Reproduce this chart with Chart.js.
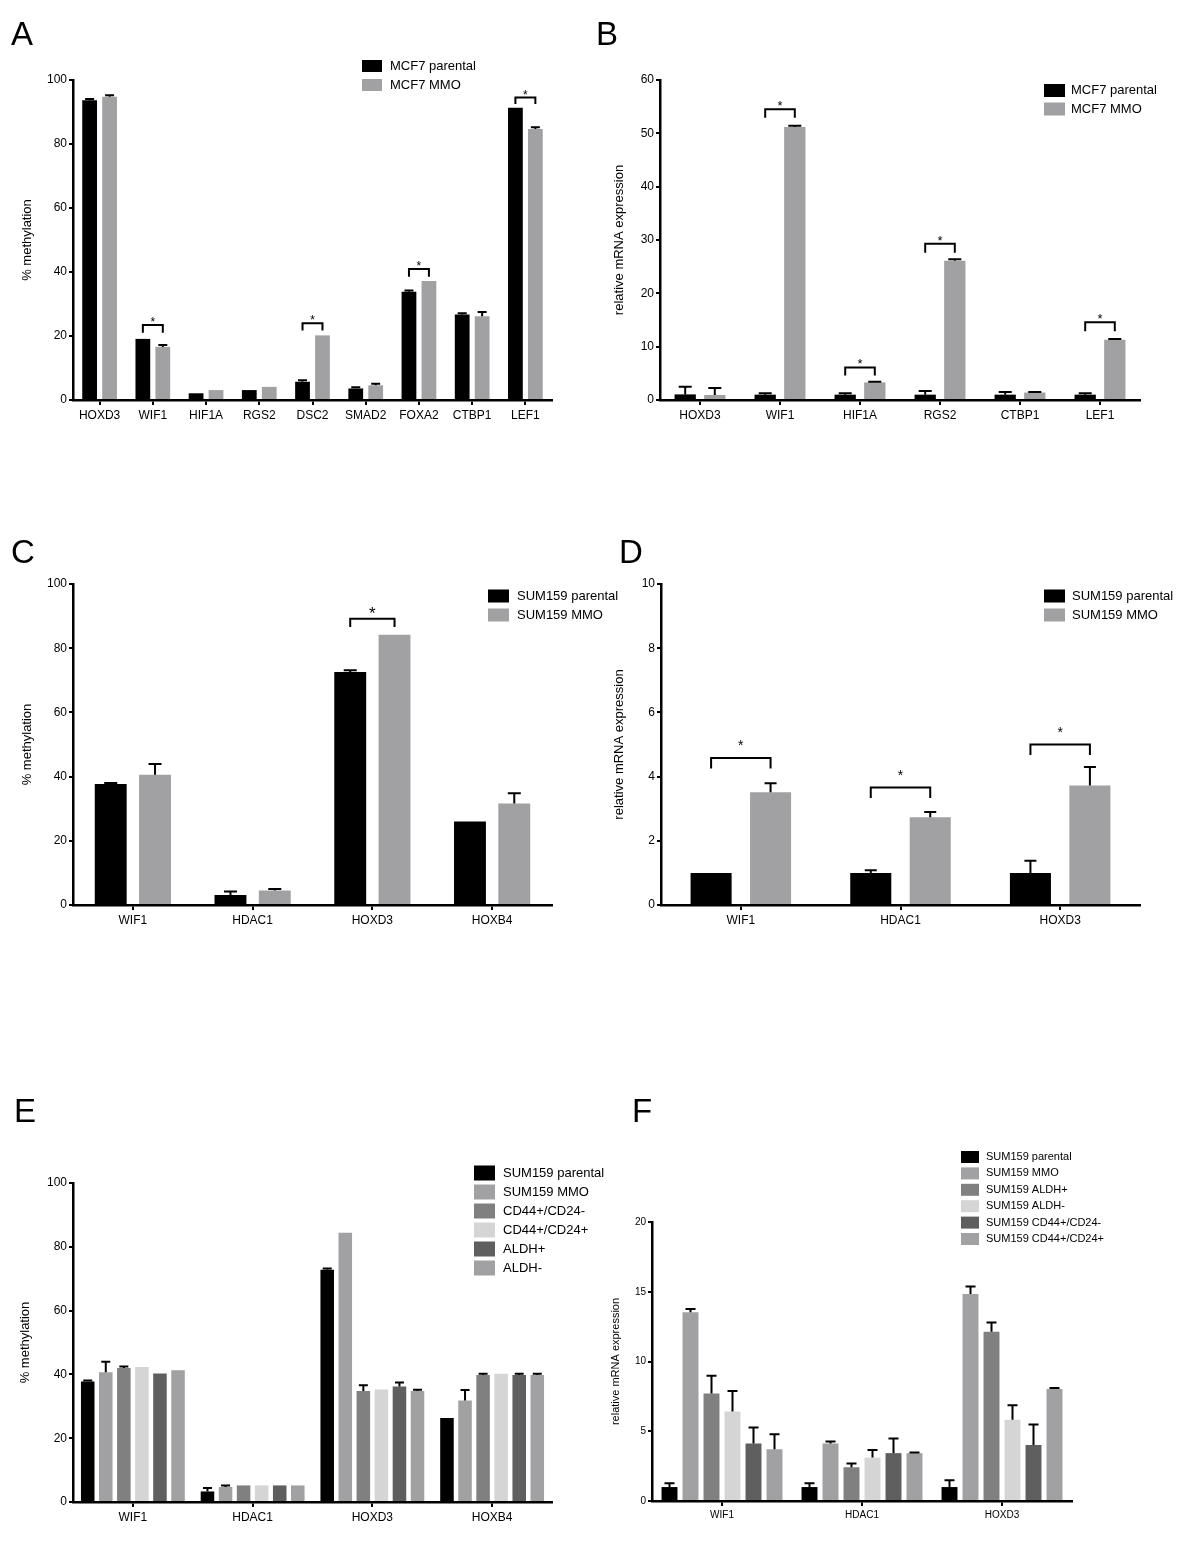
<!DOCTYPE html>
<html>
<head>
<meta charset="utf-8">
<script src="https://cdn.jsdelivr.net/npm/chart.js@4"></script>
<style>
body { margin: 0; background: #fff; width: 1200px; height: 1560px; position: relative; overflow: hidden; }
canvas { position: absolute; }
</style>
</head>
<body>
<canvas id="cA" width="640" height="440" style="left:0;top:0"></canvas>
<canvas id="cB" width="610" height="440" style="left:590px;top:0"></canvas>
<canvas id="cC" width="640" height="440" style="left:0;top:500px"></canvas>
<canvas id="cD" width="610" height="440" style="left:590px;top:500px"></canvas>
<canvas id="cE" width="640" height="460" style="left:0;top:1080px"></canvas>
<canvas id="cF" width="610" height="460" style="left:590px;top:1080px"></canvas>
<script>
// panel A - methylation MCF7
const catsA = ["HOXD3", "WIF1", "HIF1A", "RGS2", "DSC2", "SMAD2", "FOXA2", "CTBP1", "LEF1"];
const aParental = [93.7, 19.1, 2.1, 3.1, 5.7, 3.6, 33.8, 26.7, 91.3];
const aParentalErr = [0.4, 0, 0, 0, 0.5, 0.4, 0.4, 0.4, 0];
const aMMO = [94.8, 16.6, 3.1, 4.1, 20.2, 4.6, 37.2, 26.2, 84.7];
const aMMOErr = [0.4, 0.6, 0, 0, 0, 0.5, 0, 1.3, 0.5];
const aBrackets = [[1, 23.4, 21.0], [4, 24.0, 21.7], [6, 40.9, 38.5], [8, 94.5, 92.5]];

// panel B - expression MCF7
const catsB = ["HOXD3", "WIF1", "HIF1A", "RGS2", "CTBP1", "LEF1"];
const bParental = [1.05, 1.0, 1.0, 1.0, 1.0, 1.0];
const bParentalErr = [1.45, 0.25, 0.25, 0.7, 0.5, 0.25];
const bMMO = [0.95, 51.2, 3.3, 26.1, 1.4, 11.3];
const bMMOErr = [1.3, 0.2, 0.1, 0.3, 0.1, 0.15];
const bBrackets = [[1, 54.5, 52.9], [2, 6.1, 4.6], [3, 29.3, 27.6], [5, 14.6, 12.9]];

// panel C - methylation SUM159
const catsC = ["WIF1", "HDAC1", "HOXD3", "HOXB4"];
const cParental = [37.7, 3.1, 72.6, 26.0];
const cParentalErr = [0.3, 1.1, 0.5, 0];
const cMMO = [40.6, 4.5, 84.2, 31.6];
const cMMOErr = [3.3, 0.5, 0, 3.2];
const cBrackets = [[2, 89.2, 86.6]];

// panel D - expression SUM159
const catsD = ["WIF1", "HDAC1", "HOXD3"];
const dParental = [1.0, 1.0, 1.0];
const dParentalErr = [0, 0.08, 0.38];
const dMMO = [3.51, 2.73, 3.72];
const dMMOErr = [0.28, 0.17, 0.58];
const dBrackets = [[0, 4.58, 4.25], [1, 3.66, 3.33], [2, 5.0, 4.67]];

// panel E - methylation in sorted populations
const catsE = ["WIF1", "HDAC1", "HOXD3", "HOXB4"];
const eParental = [37.8, 3.3, 72.8, 26.3];
const eParentalErr = [0.3, 1.1, 0.4, 0];
const eMMO = [40.7, 4.7, 84.4, 31.8];
const eMMOErr = [3.3, 0.5, 0, 3.3];
const eCD44neg = [42.0, 5.2, 34.8, 39.8];
const eCD44negErr = [0.5, 0, 1.8, 0.4];
const eCD44pos = [42.3, 5.2, 35.3, 40.2];
const eCD44posErr = [0, 0, 0, 0];
const eALDHpos = [40.3, 5.2, 36.2, 39.8];
const eALDHposErr = [0, 0, 1.3, 0.4];
const eALDHneg = [41.3, 5.2, 34.8, 39.8];
const eALDHnegErr = [0, 0, 0.4, 0.4];

// panel F - expression in sorted populations
const catsF = ["WIF1", "HDAC1", "HOXD3"];
const fParental = [1.0, 1.0, 1.0];
const fParentalErr = [0.27, 0.27, 0.49];
const fMMO = [13.53, 4.12, 14.83];
const fMMOErr = [0.24, 0.14, 0.55];
const fALDHpos = [7.71, 2.42, 12.14];
const fALDHposErr = [1.27, 0.26, 0.65];
const fALDHneg = [6.42, 3.11, 5.82];
const fALDHnegErr = [1.46, 0.55, 1.05];
const fCD44neg = [4.12, 3.43, 4.02];
const fCD44negErr = [1.15, 1.05, 1.47];
const fCD44pos = [3.71, 3.43, 8.02];
const fCD44posErr = [1.08, 0.04, 0.08];

const FONT = "'Liberation Sans', Arial, Helvetica, sans-serif";
Chart.defaults.font.family = FONT;
Chart.defaults.color = "#000";

const BLACK = "#000000", GREY = "#a1a1a4", MID = "#808080", LIGHT = "#d5d5d5", DARK = "#5f5f5f";

// error bars, significance brackets, legend and panel letter
const extras = {
  id: "extras",
  afterDatasetsDraw(chart, args, o) {
    const ctx = chart.ctx, y = chart.scales.y;
    ctx.save();
    ctx.strokeStyle = "#000";
    ctx.lineWidth = 2;
    chart.data.datasets.forEach((ds, i) => {
      chart.getDatasetMeta(i).data.forEach((bar, j) => {
        const e = ds.err[j];
        if (!e) return;
        const yt = y.getPixelForValue(ds.data[j] + e);
        ctx.beginPath();
        ctx.moveTo(bar.x, bar.y);
        ctx.lineTo(bar.x, yt);
        ctx.moveTo(bar.x - o.cap, yt);
        ctx.lineTo(bar.x + o.cap, yt);
        ctx.stroke();
      });
    });
    (o.brackets || []).forEach(([k, top, leg]) => {
      const x1 = chart.getDatasetMeta(0).data[k].x;
      const x2 = chart.getDatasetMeta(1).data[k].x;
      const y1 = y.getPixelForValue(top), y2 = y.getPixelForValue(leg);
      ctx.beginPath();
      ctx.moveTo(x1, y2);
      ctx.lineTo(x1, y1);
      ctx.lineTo(x2, y1);
      ctx.lineTo(x2, y2);
      ctx.stroke();
      ctx.fillStyle = "#000";
      ctx.font = o.starSize + "px " + FONT;
      ctx.textAlign = "center";
      ctx.textBaseline = "alphabetic";
      ctx.fillText("*", (x1 + x2) / 2, y1 - o.starGap + 0.58 * o.starSize);
    });
    ctx.restore();
  },
  afterDraw(chart, args, o) {
    const ctx = chart.ctx, lg = o.legend;
    ctx.save();
    ctx.textBaseline = "middle";
    ctx.textAlign = "left";
    ctx.font = lg.font + "px " + FONT;
    chart.data.datasets.forEach((ds, i) => {
      const cy = lg.y + i * lg.dy;
      ctx.fillStyle = ds.backgroundColor;
      ctx.fillRect(lg.x, cy - lg.h / 2, lg.w, lg.h);
      ctx.fillStyle = "#000";
      ctx.fillText(ds.label, lg.tx, cy);
    });
    ctx.font = "33px " + FONT;
    ctx.textBaseline = "alphabetic";
    ctx.fillText(o.letter[0], o.letter[1], o.letter[2]);
    ctx.restore();
  }
};

function makePanel(id, p) {
  const cv = document.getElementById(id);
  const W = cv.width, H = cv.height, xH = 30;
  return new Chart(cv, {
    type: "bar",
    data: {
      labels: p.labels,
      datasets: p.series.map(s => ({
        label: s[0], data: s[1], err: s[2], backgroundColor: s[3],
        borderWidth: 0, categoryPercentage: p.catPct, barPercentage: p.barPct
      }))
    },
    options: {
      responsive: false,
      animation: false,
      layout: { padding: { left: 0, top: p.area[2], right: W - p.area[1], bottom: H - p.area[3] - xH } },
      plugins: {
        legend: { display: false },
        tooltip: { enabled: false },
        extras: p.extras
      },
      scales: {
        x: {
          grid: { display: true, drawOnChartArea: false, offset: false, tickLength: 5, lineWidth: 2, color: "#000" },
          border: { display: true, color: "#000", width: 2.5 },
          ticks: { font: { size: p.xFont }, padding: 3, autoSkip: false, maxRotation: 0 },
          afterFit: s => { s.height = xH; }
        },
        y: {
          min: 0, max: p.yMax,
          grid: { display: true, drawOnChartArea: false, tickLength: 4, lineWidth: 2, color: "#000" },
          border: { display: true, color: "#000", width: 2.5 },
          ticks: { stepSize: p.yStep, font: { size: p.yFont }, padding: 2 },
          title: {
            display: true, text: p.yTitle, font: { size: p.titleFont },
            padding: { top: p.titleX - p.titleFont * 0.6, bottom: 0 }
          },
          afterFit: s => { s.width = p.area[0]; }
        }
      }
    },
    plugins: [extras]
  });
}

makePanel("cA", {
  labels: catsA,
  series: [["MCF7 parental", aParental, aParentalErr, BLACK], ["MCF7 MMO", aMMO, aMMOErr, GREY]],
  area: [73, 552, 80, 400], catPct: 0.75, barPct: 0.74,
  yMax: 100, yStep: 20, yTitle: "% methylation", titleX: 27,
  xFont: 12, yFont: 12, titleFont: 13,
  extras: {
    cap: 4.5, brackets: aBrackets, starSize: 12, starGap: 5.7, letter: ["A", 11, 45],
    legend: { x: 362, y: 66, dy: 19, w: 20, h: 12, tx: 390, font: 13 }
  }
});

makePanel("cB", {
  labels: catsB,
  series: [["MCF7 parental", bParental, bParentalErr, BLACK], ["MCF7 MMO", bMMO, bMMOErr, GREY]],
  area: [70, 550, 80, 400], catPct: 0.74, barPct: 0.72,
  yMax: 60, yStep: 10, yTitle: "relative mRNA expression", titleX: 29,
  xFont: 12, yFont: 12, titleFont: 13,
  extras: {
    cap: 6.5, brackets: bBrackets, starSize: 13, starGap: 6.7, letter: ["B", 6, 45],
    legend: { x: 454, y: 90.5, dy: 18.5, w: 21, h: 13, tx: 481, font: 13 }
  }
});

makePanel("cC", {
  labels: catsC,
  series: [["SUM159 parental", cParental, cParentalErr, BLACK], ["SUM159 MMO", cMMO, cMMOErr, GREY]],
  area: [73, 552, 84, 405], catPct: 0.74, barPct: 0.72,
  yMax: 100, yStep: 20, yTitle: "% methylation", titleX: 27,
  xFont: 12, yFont: 12, titleFont: 13,
  extras: {
    cap: 6.5, brackets: cBrackets, starSize: 17, starGap: 10, letter: ["C", 11, 63],
    legend: { x: 488, y: 96, dy: 19, w: 21, h: 13, tx: 517, font: 13 }
  }
});

makePanel("cD", {
  labels: catsD,
  series: [["SUM159 parental", dParental, dParentalErr, BLACK], ["SUM159 MMO", dMMO, dMMOErr, GREY]],
  area: [71, 550, 84, 405], catPct: 0.745, barPct: 0.69,
  yMax: 10, yStep: 2, yTitle: "relative mRNA expression", titleX: 29,
  xFont: 12, yFont: 12, titleFont: 13,
  extras: {
    cap: 6, brackets: dBrackets, starSize: 14, starGap: 16, letter: ["D", 29, 63],
    legend: { x: 454, y: 96, dy: 19, w: 21, h: 13, tx: 482, font: 13 }
  }
});

makePanel("cE", {
  labels: catsE,
  series: [
    ["SUM159 parental", eParental, eParentalErr, BLACK],
    ["SUM159 MMO", eMMO, eMMOErr, GREY],
    ["CD44+/CD24-", eCD44neg, eCD44negErr, MID],
    ["CD44+/CD24+", eCD44pos, eCD44posErr, LIGHT],
    ["ALDH+", eALDHpos, eALDHposErr, DARK],
    ["ALDH-", eALDHneg, eALDHnegErr, GREY]
  ],
  area: [73, 552, 103, 422], catPct: 0.905, barPct: 0.75,
  yMax: 100, yStep: 20, yTitle: "% methylation", titleX: 25,
  xFont: 12, yFont: 12, titleFont: 13,
  extras: {
    cap: 4.5, brackets: [], starSize: 12, starGap: 6, letter: ["E", 14, 42],
    legend: { x: 474, y: 93, dy: 19, w: 21, h: 15, tx: 503, font: 13 }
  }
});

makePanel("cF", {
  labels: catsF,
  series: [
    ["SUM159 parental", fParental, fParentalErr, BLACK],
    ["SUM159 MMO", fMMO, fMMOErr, GREY],
    ["SUM159 ALDH+", fALDHpos, fALDHposErr, MID],
    ["SUM159 ALDH-", fALDHneg, fALDHnegErr, LIGHT],
    ["SUM159 CD44+/CD24-", fCD44neg, fCD44negErr, DARK],
    ["SUM159 CD44+/CD24+", fCD44pos, fCD44posErr, GREY]
  ],
  area: [62, 482, 142, 421], catPct: 0.9, barPct: 0.76,
  yMax: 20, yStep: 5, yTitle: "relative mRNA expression", titleX: 26,
  xFont: 10, yFont: 10, titleFont: 11,
  extras: {
    cap: 5, brackets: [], starSize: 12, starGap: 6, letter: ["F", 42, 42],
    legend: { x: 371, y: 77, dy: 16.4, w: 18, h: 12, tx: 396, font: 11 }
  }
});
</script>
</body>
</html>
